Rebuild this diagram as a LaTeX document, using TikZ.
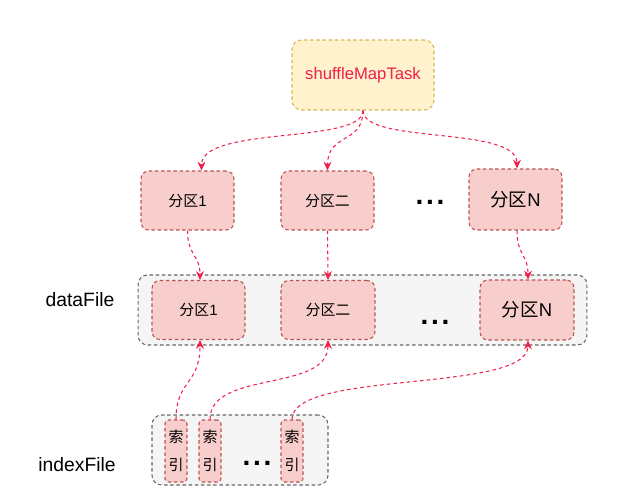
\documentclass[tikz,border=0pt]{standalone}
\usepackage{fontspec}
\setmainfont{Liberation Sans}
\newfontfamily\cjk{Noto Sans CJK SC}
\usetikzlibrary{arrows.meta}

\definecolor{partfill}{HTML}{F8CECC}
\definecolor{partline}{HTML}{B85450}
\definecolor{taskfill}{HTML}{FFF2CC}
\definecolor{taskline}{HTML}{D6B656}
\definecolor{groupfill}{HTML}{F5F5F5}
\definecolor{groupline}{HTML}{666666}
\definecolor{flowred}{HTML}{F0204A}

\begin{document}
\begin{tikzpicture}[
    x=0.02cm, y=-0.02cm,
    part/.style={draw=partline, fill=partfill, line width=0.6pt,
                 dash pattern=on 2pt off 1.5pt, rounded corners=4.5pt,
                 minimum width=1.86cm, minimum height=1.18cm, inner sep=0pt,
                 font=\fontsize{8.5}{10}\selectfont},
    bigpart/.style={part, font=\fontsize{10.5}{12}\selectfont},
    task/.style={draw=taskline, fill=taskfill, line width=0.6pt,
                 dash pattern=on 2pt off 1.5pt, rounded corners=5.5pt,
                 minimum width=2.84cm, minimum height=1.40cm, inner sep=0pt,
                 text=flowred, font=\fontsize{9.5}{11}\selectfont},
    group/.style={draw=groupline, fill=groupfill, line width=0.6pt,
                  dash pattern=on 2pt off 1.5pt, rounded corners=5.5pt,
                  minimum height=1.40cm, inner sep=0pt},
    idx/.style={part, rounded corners=2pt, minimum width=0.44cm,
                minimum height=1.24cm, align=center,
                font=\fontsize{8.5}{10}\selectfont\cjk},
    lbl/.style={font=\fontsize{11}{13}\selectfont, inner sep=0pt},
    dots/.style={font=\fontsize{16}{16}\selectfont\bfseries, inner sep=0pt},
    flow/.style={-{Stealth[length=5pt,width=4.5pt]}, draw=flowred,
                 line width=0.6pt, dash pattern=on 2pt off 1.8pt}
]
\useasboundingbox (0,0) rectangle (630,504);

% task
\node[task] (task) at (363,75) {shuffleMapTask};

% partitions written by the task
\node[part]    (pA) at (187.5,200.5) {{\cjk 分区}1};
\node[part]    (pB) at (327.5,200.5) {\cjk 分区二};
\node[bigpart, minimum height=1.22cm] (pN) at (515.5,199.5) {{\cjk 分区}N};
\node[dots]    (pdots) at (430,202) {.\kern1.5pt.\kern1.5pt.};

% dataFile
\node[group, minimum width=8.98cm] (data) at (362.5,310) {};
\node[lbl] (datalbl) at (80,300) {dataFile};
\node[part, minimum width=1.86cm] (dA) at (198.5,310) {{\cjk 分区}1};
\node[part, minimum width=1.88cm] (dB) at (328,310)   {\cjk 分区二};
\node[bigpart, minimum width=1.88cm, minimum height=1.2cm] (dN) at (527,310) {{\cjk 分区}N};
\node[dots] (ddots) at (435,322) {.\kern1.5pt.\kern1.5pt.};

% indexFile
\node[group, minimum width=3.52cm] (index) at (240,450) {};
\node[lbl] (indexlbl) at (77,465) {indexFile};
\node[idx] (i1) at (176,451) {索\\[6pt]引};
\node[idx] (i2) at (210,451) {索\\[6pt]引};
\node[idx] (i3) at (292,451) {索\\[6pt]引};
\node[dots] (idots) at (257,463) {.\kern1.5pt.\kern1.5pt.};

% task -> partitions
\draw[flow] (task.south) .. controls +(0,34) and +(0,-45) .. ([xshift=0.28cm]pA.north);
\draw[flow] (task.south) .. controls +(0,34) and +(0,-38) .. (pB.north);
\draw[flow] (task.south) .. controls +(0,34) and +(0,-43) .. ([xshift=0.03cm]pN.north);

% partitions -> dataFile
\draw[flow] (pA.south) .. controls +(0,25) and +(0,-25) .. ([xshift=0.03cm]dA.north);
\draw[flow] (pB.south) -- (dB.north);
\draw[flow] ([xshift=0.03cm]pN.south) .. controls +(0,25) and +(0,-25) .. ([xshift=0.02cm]dN.north);

% index -> dataFile
\draw[flow] (i1.north) .. controls +(0,-40) and +(0,45) .. ([xshift=0.03cm]dA.south);
\draw[flow] (i2.north) .. controls +(0,-50) and +(0,53) .. (dB.south);
\draw[flow] (i3.north) .. controls +(0,-50) and +(0,53) .. ([xshift=0.02cm]dN.south);

\end{tikzpicture}
\end{document}
